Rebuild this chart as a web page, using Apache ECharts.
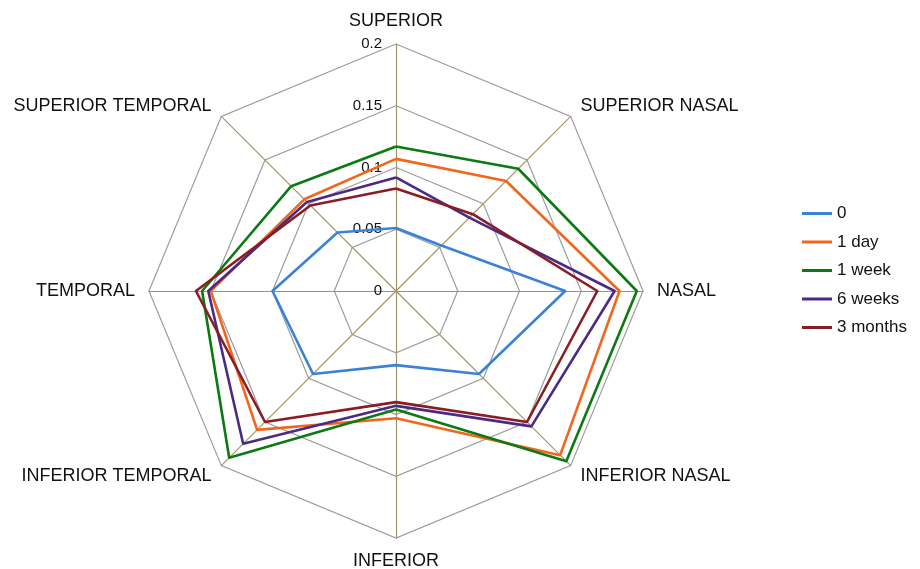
<!DOCTYPE html>
<html>
<head>
<meta charset="utf-8">
<script src="https://cdn.jsdelivr.net/npm/echarts@6/dist/echarts.min.js"></script>
<style>
  html, body { margin: 0; padding: 0; background: #fff; }
  #chart { width: 920px; height: 569px; }
</style>
</head>
<body>
<div id="chart"></div>
<script>
// indicators in counter-clockwise order starting at the top
const regions = ['SUPERIOR', 'SUPERIOR TEMPORAL', 'TEMPORAL', 'INFERIOR TEMPORAL',
  'INFERIOR', 'INFERIOR NASAL', 'NASAL', 'SUPERIOR NASAL'];

const seriesNames = ['0', '1 day', '1 week', '6 weeks', '3 months'];

const base     = [0.051, 0.067, 0.100, 0.095, 0.060, 0.095, 0.137, 0.052];
const oneDay   = [0.107, 0.105, 0.150, 0.159, 0.103, 0.188, 0.181, 0.126];
const oneWeek  = [0.117, 0.120, 0.157, 0.191, 0.096, 0.195, 0.195, 0.140];
const sixWeeks = [0.092, 0.102, 0.152, 0.175, 0.093, 0.155, 0.177, 0.084];
const threeMon = [0.083, 0.098, 0.162, 0.150, 0.090, 0.150, 0.163, 0.088];

const colorList = ['#3a82d8', '#f0671c', '#0b7a12', '#4a2a84', '#8a1c24'];

const chart = echarts.init(document.getElementById('chart'));

const values = [base, oneDay, oneWeek, sixWeeks, threeMon];

const option = {
  animation: false,
  color: colorList,
  legend: {
    orient: 'vertical',
    left: 797,
    top: 200,
    icon: 'rect',
    itemWidth: 30,
    itemHeight: 3,
    itemGap: 11.5,
    textStyle: { fontFamily: 'Liberation Sans', fontSize: 17, color: '#111' },
    data: seriesNames
  },
  radar: {
    center: [396, 291],
    radius: 247,
    shape: 'polygon',
    splitNumber: 4,
    nameGap: 14,
    axisName: { fontFamily: 'Liberation Sans', fontSize: 18, color: '#111' },
    axisLine: { lineStyle: { color: '#a39468', width: 1.2 } },
    splitLine: { lineStyle: { color: '#9c9c9c', width: 1.2 } },
    splitArea: { show: false },
    axisLabel: { show: false, margin: 14, fontFamily: 'Liberation Sans', fontSize: 15, color: '#111' },
    indicator: regions.map((name, i) => (
      i === 0
        ? { name: name, min: 0, max: 0.2, axisLabel: { show: true } }
        : { name: name, min: 0, max: 0.2 }
    ))
  },
  series: [
    {
      type: 'radar',
      symbol: 'none',
      lineStyle: { width: 2.6 },
      data: values.map((v, i) => ({
        name: seriesNames[i],
        value: v,
        lineStyle: { color: colorList[i], width: 2.6 },
        itemStyle: { color: colorList[i] }
      }))
    }
  ]
};

option && chart.setOption(option);
</script>
</body>
</html>
